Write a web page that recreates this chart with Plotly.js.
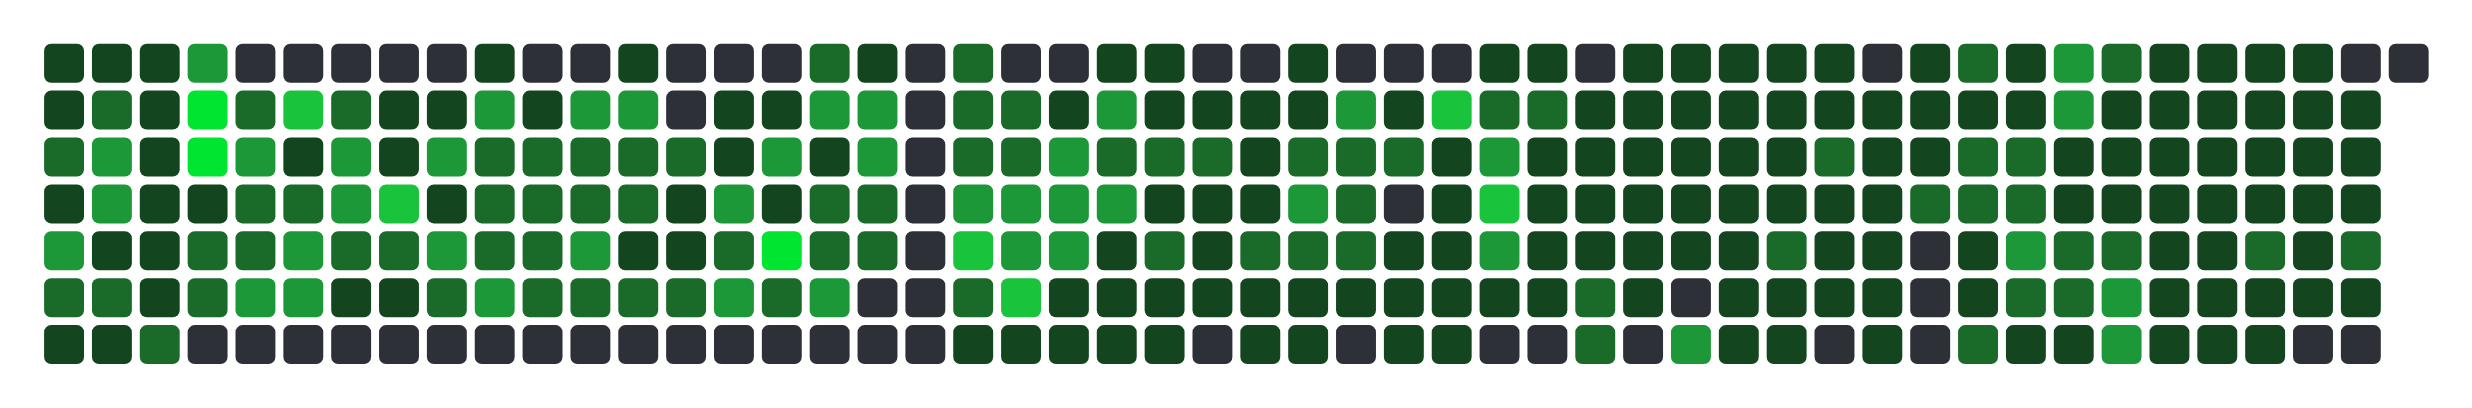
<!DOCTYPE html>
<html>
<head>
<meta charset="utf-8">
<script src="https://cdn.plot.ly/plotly-3.0.1.min.js"></script>
<style>html,body{margin:0;padding:0;background:#fff;}#chart{width:2472px;height:408px;}</style>
</head>
<body>
<div id="chart"></div>
<script>
// Activity level per cell (0 = none ... 5 = most), one array per row
const row1 = [1,1,1,3,0,0,0,0,0,1,0,0,1,0,0,0,2, 1,0,2,0,0,1,1,0,0,1,0,0,0,1,1,0, 1,1,1,1,1,0,1,2,1,3,2,1,1,1,1,0,0];
const row2 = [1,2,1,5,2,4,2,1,1,3,1,3,3,0,1,1,3, 3,0,2,2,1,3,1,1,1,1,3,1,4,2,2,1, 1,1,1,1,1,1,1,1,1,3,1,1,1,1,1,1];
const row3 = [2,3,1,5,3,1,3,1,3,2,2,2,2,2,1,3,1, 3,0,2,2,3,2,2,2,1,2,2,2,1,3,1,1, 1,1,1,1,2,1,1,2,2,1,1,1,1,1,1,1];
const row4 = [1,3,1,1,2,2,3,4,1,2,2,2,2,1,3,1,2, 2,0,3,3,3,3,1,1,1,3,2,0,1,4,1,1, 1,1,1,1,1,1,2,2,2,1,1,1,1,1,1,1];
const row5 = [3,1,1,2,2,3,2,2,3,2,2,3,1,1,2,5,2, 2,0,4,3,3,1,2,1,2,2,2,1,1,3,1,1, 1,1,1,2,1,1,0,1,3,2,2,1,1,2,1,2];
const row6 = [2,2,1,2,3,3,1,1,2,3,2,2,2,2,3,2,3, 0,0,2,4,1,1,1,1,1,1,1,1,1,1,1,2, 1,0,1,1,1,1,0,1,2,2,3,1,1,1,1,1];
const row7 = [1,1,2,0,0,0,0,0,0,0,0,0,0,0,0,0,0, 0,0,1,1,1,1,1,0,1,1,0,1,1,0,0,2, 0,3,1,1,0,1,0,2,1,1,3,1,1,1,0,0];
const rows = [row1,row2,row3,row4,row5,row6,row7];
const levelColors = ['#2d3037','#13461e','#1a6a2a','#1d9838','#19c33c','#00e52f'];

const xs = [], ys = [], cols = [];
rows.forEach((r, ri) => {
  r.forEach((v, ci) => {
    xs.push(ci); ys.push(ri); cols.push(levelColors[v]);
  });
});

const H = 0.8316, W = 0.834;
const cells = {
  type: 'bar', x: xs, width: W,
  base: ys.map(r => r - H/2), y: ys.map(() => H),
  marker: {color: cols, cornerradius: 7, line: {width: 0}},
  hoverinfo: 'skip', showlegend: false
};

const layout = {
  width: 2472, height: 408,
  margin: {l: 0, r: 0, t: 0, b: 0},
  paper_bgcolor: '#ffffff', plot_bgcolor: '#ffffff',
  barmode: 'overlay',
  xaxis: {range: [-1.3386, 50.323], visible: false, fixedrange: true},
  yaxis: {range: [7.352, -1.3475], visible: false, fixedrange: true},
  showlegend: false
};
Plotly.newPlot('chart', [cells], layout, {displayModeBar: false, staticPlot: true});
</script>
</body>
</html>
